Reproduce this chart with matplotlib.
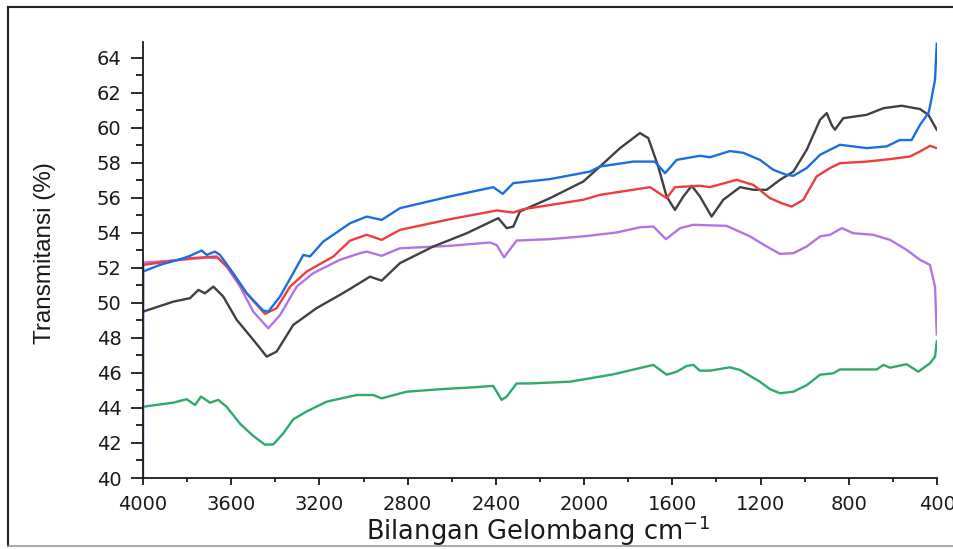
import matplotlib
matplotlib.use("Agg")
import matplotlib.pyplot as plt
from matplotlib.lines import Line2D
from matplotlib.ticker import MultipleLocator

plt.rcParams["font.family"] = ["DejaVu Sans"]

# 光谱数据（从图上读取的波数 cm-1 与透过率 %）
wn_black = [4000, 3863, 3787, 3749, 3719, 3681, 3636, 3575, 3500, 3439, 3394, 3319, 3213, 3107,
            3061, 2971, 2918, 2835, 2684, 2532, 2389, 2351, 2321, 2291, 2155, 2004, 1928, 1837,
            1747, 1709, 1664, 1626, 1588, 1550, 1512, 1475, 1422, 1369, 1293, 1233, 1172, 1112,
            1051, 991, 930, 900, 878, 863, 825, 719, 643, 560, 477, 439, 401]
t_black = [49.5, 50.07, 50.27, 50.74, 50.55, 50.93, 50.36, 49.03, 47.89, 46.93, 47.22, 48.74, 49.7, 50.46,
           50.8, 51.5, 51.27, 52.27, 53.22, 53.98, 54.84, 54.27, 54.36, 55.22, 55.98, 56.93, 57.79, 58.84,
           59.7, 59.41, 57.79, 56.08, 55.31, 56.08, 56.69, 56.08, 54.93, 55.89, 56.61, 56.46, 56.46, 57.03,
           57.5, 58.74, 60.46, 60.84, 60.17, 59.89, 60.55, 60.74, 61.12, 61.26, 61.07, 60.74, 59.89]

wn_red = [4000, 3923, 3787, 3666, 3606, 3530, 3447, 3394, 3333, 3258, 3137, 3061, 2986, 2918,
          2835, 2608, 2396, 2321, 2276, 2004, 1928, 1701, 1626, 1588, 1475, 1429, 1309, 1233,
          1157, 1104, 1059, 1006, 946, 885, 840, 719, 613, 523, 477, 432, 401]
t_red = [52.17, 52.3, 52.55, 52.65, 51.89, 50.55, 49.37, 49.7, 50.93, 51.79, 52.65, 53.56, 53.89, 53.6,
         54.17, 54.78, 55.28, 55.16, 55.35, 55.89, 56.17, 56.61, 55.98, 56.61, 56.69, 56.61, 57.03, 56.74,
         55.98, 55.69, 55.5, 55.89, 57.22, 57.7, 57.98, 58.07, 58.21, 58.36, 58.65, 58.97, 58.84]

wn_blue = [4000, 3923, 3817, 3787, 3734, 3711, 3674, 3651, 3591, 3530, 3455, 3432, 3379, 3319,
           3273, 3243, 3183, 3061, 2986, 2918, 2835, 2608, 2412, 2369, 2321, 2155, 1973, 1928,
           1777, 1679, 1633, 1580, 1475, 1429, 1339, 1278, 1203, 1142, 1082, 1051, 991, 930,
           840, 719, 628, 569, 515, 477, 439, 432, 409, 401]
t_blue = [51.79, 52.17, 52.55, 52.69, 52.99, 52.74, 52.93, 52.74, 51.7, 50.55, 49.56, 49.5, 50.36, 51.7,
          52.74, 52.65, 53.5, 54.55, 54.93, 54.74, 55.41, 56.08, 56.61, 56.23, 56.84, 57.07, 57.5, 57.79,
          58.07, 58.07, 57.41, 58.17, 58.4, 58.32, 58.67, 58.57, 58.17, 57.6, 57.31, 57.26, 57.7, 58.46,
          59.03, 58.84, 58.94, 59.3, 59.3, 60.17, 60.84, 61.2, 62.74, 64.8]

wn_purple = [4000, 3998, 3863, 3711, 3659, 3621, 3560, 3500, 3432, 3379, 3303, 3228, 3107, 3016,
             2986, 2918, 2835, 2608, 2427, 2396, 2363, 2306, 2155, 2004, 1852, 1747, 1686, 1629,
             1565, 1505, 1354, 1248, 1172, 1112, 1051, 991, 930, 885, 832, 780, 690, 613,
             538, 477, 432, 409, 401]
t_purple = [38.0, 52.3, 52.42, 52.59, 52.55, 52.08, 50.93, 49.5, 48.55, 49.3, 50.93, 51.7, 52.46, 52.84,
            52.93, 52.69, 53.12, 53.26, 53.45, 53.3, 52.6, 53.56, 53.64, 53.8, 54.02, 54.32, 54.36, 53.64,
            54.27, 54.46, 54.4, 53.8, 53.22, 52.8, 52.84, 53.22, 53.8, 53.89, 54.27, 53.98, 53.89, 53.6,
            53.03, 52.46, 52.17, 50.93, 48.2]

wn_green = [4000, 3864, 3802, 3764, 3737, 3696, 3659, 3621, 3560, 3500, 3447, 3409, 3364, 3319,
            3258, 3167, 3031, 2956, 2918, 2804, 2653, 2502, 2412, 2374, 2351, 2306, 2245, 2064,
            1868, 1686, 1626, 1580, 1535, 1505, 1475, 1430, 1339, 1293, 1203, 1157, 1112, 1051,
            991, 930, 870, 840, 719, 673, 643, 613, 538, 485, 432, 409, 401]
t_green = [44.07, 44.3, 44.5, 44.17, 44.65, 44.3, 44.46, 44.07, 43.1, 42.4, 41.9, 41.92, 42.55, 43.35,
           43.8, 44.36, 44.74, 44.74, 44.55, 44.93, 45.07, 45.18, 45.26, 44.46, 44.65, 45.4, 45.4, 45.5,
           45.92, 46.46, 45.9, 46.07, 46.4, 46.46, 46.13, 46.13, 46.32, 46.17, 45.5, 45.07, 44.84, 44.93,
           45.3, 45.9, 45.98, 46.2, 46.2, 46.2, 46.46, 46.3, 46.5, 46.07, 46.55, 46.93, 47.8]

series = [
    (wn_green, t_green, "#2eaa6b"),
    (wn_purple, t_purple, "#b274e2"),
    (wn_black, t_black, "#404040"),
    (wn_red, t_red, "#ef3d3d"),
    (wn_blue, t_blue, "#1c6ee0"),
]

fig = plt.figure(figsize=(9.54, 5.49), dpi=100)
ax = fig.add_axes([143 / 954, 1 - 478 / 549, (937 - 143) / 954, (478 - 42) / 549])

for wn, t, c in series:
    ax.plot(wn, t, color=c, lw=1.7, solid_joinstyle="round")

ax.set_xlim(4000, 400)
ax.set_ylim(40, 64.9)
ax.xaxis.set_major_locator(MultipleLocator(400))
ax.xaxis.set_minor_locator(MultipleLocator(200))
ax.yaxis.set_major_locator(MultipleLocator(2))
ax.yaxis.set_minor_locator(MultipleLocator(1))

for s in ["top", "right"]:
    ax.spines[s].set_visible(False)
for s in ["left", "bottom"]:
    ax.spines[s].set_linewidth(1.3)
    ax.spines[s].set_color("#1a1a1a")

ax.tick_params(axis="y", which="major", direction="out", length=8.5, width=1.3, labelsize=14,
               pad=7, colors="#1a1a1a")
ax.tick_params(axis="y", which="minor", direction="out", length=5, width=1.3, colors="#1a1a1a")
ax.tick_params(axis="x", which="major", direction="out", length=5, width=1.3, labelsize=14,
               pad=7, colors="#1a1a1a")
ax.tick_params(axis="x", which="minor", direction="out", length=3, width=1.3, colors="#1a1a1a")

# 轴标题（手动定位）
fig.text(45 / 954, 1 - 253 / 549, "Transmitansi (%)", rotation=90, ha="center", va="center",
         fontsize=17.5, color="#1a1a1a", family=["Liberation Sans", "DejaVu Sans"])
fig.text(538 / 954, 1 - 540 / 549, "Bilangan Gelombang cm$^{-1}$", ha="center", va="baseline",
         fontsize=18.5, color="#1a1a1a")

# 外框
fig.add_artist(Line2D([8 / 954, 8 / 954], [1 - 546 / 549, 1 - 7 / 549], transform=fig.transFigure,
                      color="#222222", lw=1.5))
fig.add_artist(Line2D([8 / 954, 1.0], [1 - 7 / 549, 1 - 7 / 549], transform=fig.transFigure,
                      color="#222222", lw=1.5))
fig.add_artist(Line2D([8 / 954, 1.0], [1 - 546 / 549, 1 - 546 / 549], transform=fig.transFigure,
                      color="#999999", lw=1.2))

fig.savefig("out.png", dpi=100)
